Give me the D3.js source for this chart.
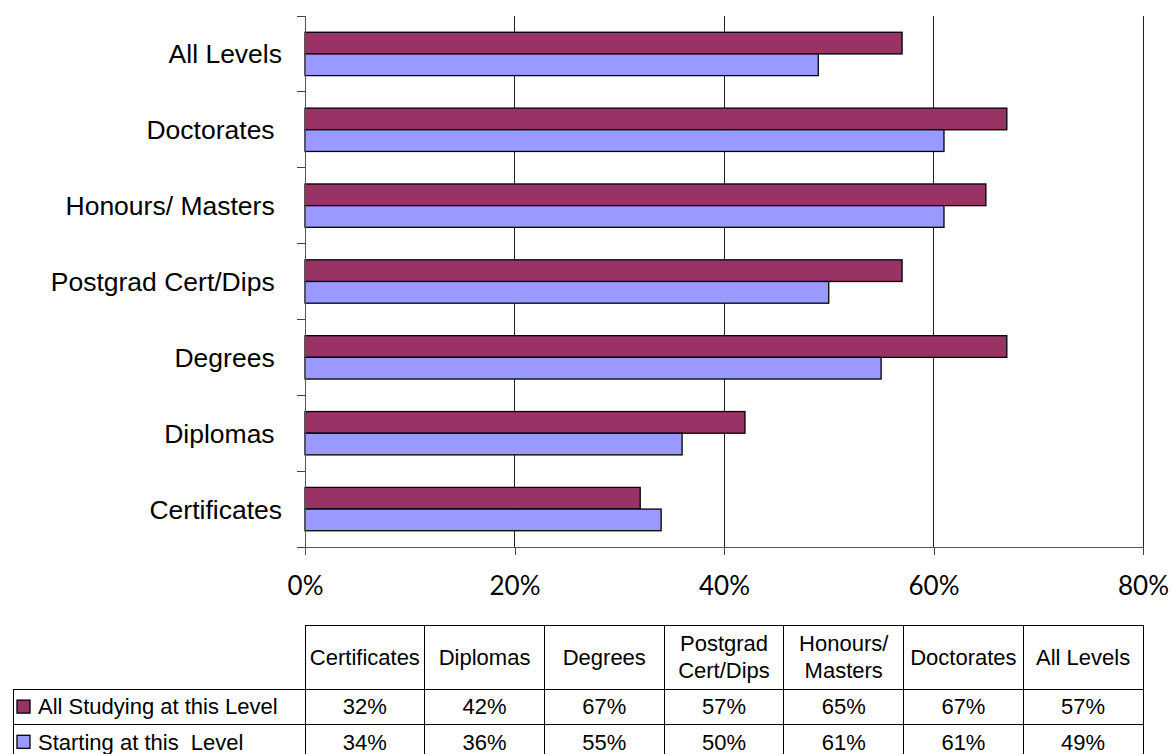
<!DOCTYPE html>
<html>
<head>
<meta charset="utf-8">
<script src="https://cdn.jsdelivr.net/npm/d3@7"></script>
<style>
  html, body { margin: 0; padding: 0; background: #fff; }
  svg { display: block; }
  text { white-space: pre; }
</style>
</head>
<body>
<svg id="chart" width="1173" height="754"></svg>
<script>
// Study levels (table order, left to right; the bar chart lists them bottom to top)
const levels = ["Certificates", "Diplomas", "Degrees", "Postgrad Cert/Dips", "Honours/ Masters", "Doctorates", "All Levels"];
// Axis labels as typed in the source workbook (some carry a trailing space)
const axisLabels = ["Certificates", "Diplomas ", "Degrees ", "Postgrad Cert/Dips ", "Honours/ Masters ", "Doctorates ", "All Levels"];
// Column headings of the data table (wrapped lines)
const headerLines = [["Certificates"], ["Diplomas"], ["Degrees"], ["Postgrad", "Cert/Dips"], ["Honours/", "Masters"], ["Doctorates"], ["All Levels"]];

const seriesNames = ["All Studying at this Level", "Starting at this  Level"];
const allStudying = [32, 42, 67, 57, 65, 67, 57];
const startingLevel = [34, 36, 55, 50, 61, 61, 49];
const xTicks = [0, 20, 40, 60, 80];

const colors = ["#993366", "#9999FF"];
const seriesValues = [allStudying, startingLevel];

const svg = d3.select("#chart");

const plot = { left: 305, right: 1143, top: 16, bottom: 547 };

const x = d3.scaleLinear().domain([0, 80]).range([plot.left, plot.right]);
// top row is "All Levels", so reverse the order for the vertical bands
const y = d3.scaleBand().domain(levels.slice().reverse()).range([plot.top, plot.bottom]).padding(0);
const ySub = d3.scaleBand().domain([0, 1]).range([0, y.bandwidth()]).paddingInner(0).paddingOuter(0.75);

// vertical gridlines
svg.append("g")
  .selectAll("line")
  .data(xTicks.filter(d => d > 0))
  .join("line")
  .attr("x1", d => x(d)).attr("x2", d => x(d))
  .attr("y1", plot.top).attr("y2", plot.bottom)
  .attr("stroke", "#222").attr("stroke-width", 1)
  .attr("shape-rendering", "crispEdges");

// bars
levels.forEach((lvl, i) => {
  seriesValues.forEach((vals, s) => {
    svg.append("rect")
      .attr("x", x(0))
      .attr("y", y(lvl) + ySub(s))
      .attr("width", x(vals[i]) - x(0))
      .attr("height", ySub.bandwidth())
      .attr("fill", colors[s])
      .attr("stroke", "#000")
      .attr("stroke-width", 1.3);
  });
});

// x axis
const xAxis = d3.axisBottom(x).tickValues(xTicks).tickSize(8).tickFormat(d => d + "%");
const gx = svg.append("g").attr("transform", `translate(0,${plot.bottom})`).call(xAxis);
gx.select(".domain").remove();
gx.append("line").attr("x1", plot.left - 8).attr("x2", plot.right)
  .attr("y1", 0).attr("y2", 0).attr("stroke", "#555").attr("shape-rendering", "crispEdges");
gx.selectAll(".tick line").attr("stroke", "#444").attr("shape-rendering", "crispEdges");
gx.selectAll(".tick text")
  .attr("y", 48).attr("dy", null)
  .attr("font-family", "Lato, sans-serif").attr("font-size", 26).attr("fill", "#000");

// y axis: ticks on band boundaries, labels centred in bands
const boundaries = levels.map(l => y(l)).concat([plot.bottom]);
const gy = svg.append("g");
gy.append("line").attr("x1", plot.left).attr("x2", plot.left)
  .attr("y1", plot.top).attr("y2", plot.bottom + 8)
  .attr("stroke", "#555").attr("shape-rendering", "crispEdges");
gy.selectAll("line.tick")
  .data(boundaries)
  .join("line").attr("class", "tick")
  .attr("x1", plot.left - 8).attr("x2", plot.left)
  .attr("y1", d => d).attr("y2", d => d)
  .attr("stroke", "#444").attr("shape-rendering", "crispEdges");
gy.selectAll("text")
  .data(levels)
  .join("text")
  .attr("x", 282 + 0)
  .attr("y", d => y(d) + y.bandwidth() / 2 + 9.5)
  .attr("text-anchor", "end")
  .attr("font-family", "'Liberation Sans', Arial, sans-serif")
  .attr("font-size", 26.5)
  .attr("fill", "#000")
  .text((d, i) => axisLabels[i]);

// data table
const col = d3.scaleBand().domain(levels).range([plot.left, plot.right]);
const table = { top: 625, head: 689, row: 35.2, labelLeft: 13 };
const tFont = "'Liberation Sans', Arial, sans-serif";
const tg = svg.append("g").attr("shape-rendering", "crispEdges");

// header cells
tg.selectAll("rect.head")
  .data(levels)
  .join("rect").attr("class", "head")
  .attr("x", d => col(d)).attr("y", table.top)
  .attr("width", col.bandwidth()).attr("height", table.head - table.top)
  .attr("fill", "none").attr("stroke", "#000");

// body cells
seriesNames.forEach((name, s) => {
  const ry = table.head + s * table.row;
  tg.append("rect")
    .attr("x", table.labelLeft).attr("y", ry)
    .attr("width", plot.left - table.labelLeft).attr("height", table.row)
    .attr("fill", "none").attr("stroke", "#000");
  tg.selectAll(`rect.c${s}`)
    .data(levels)
    .join("rect").attr("class", `c${s}`)
    .attr("x", d => col(d)).attr("y", ry)
    .attr("width", col.bandwidth()).attr("height", table.row)
    .attr("fill", "none").attr("stroke", "#000");
});

// header text
const hg = svg.append("g").attr("font-family", tFont).attr("font-size", 22).attr("fill", "#000").attr("text-anchor", "middle");
levels.forEach((lvl, i) => {
  const lines = headerLines[i];
  const mid = (table.top + table.head) / 2;
  const lh = 27;
  lines.forEach((ln, k) => {
    hg.append("text")
      .attr("x", col(lvl) + col.bandwidth() / 2)
      .attr("y", mid + (k - (lines.length - 1) / 2) * lh + 7.7)
      .text(ln);
  });
});

// legend keys, series names and values
seriesNames.forEach((name, s) => {
  const cy = table.head + s * table.row + table.row / 2;
  svg.append("rect")
    .attr("x", 17).attr("y", cy - 6.5)
    .attr("width", 13).attr("height", 13)
    .attr("fill", colors[s]).attr("stroke", "#000").attr("stroke-width", 1.3);
  svg.append("text")
    .attr("x", 38).attr("y", cy + 7.7)
    .attr("font-family", tFont).attr("font-size", 22).attr("fill", "#000")
    .text(name);
  svg.append("g").selectAll("text")
    .data(levels)
    .join("text")
    .attr("x", d => col(d) + col.bandwidth() / 2)
    .attr("y", cy + 7.7)
    .attr("text-anchor", "middle")
    .attr("font-family", tFont).attr("font-size", 22).attr("fill", "#000")
    .text((d, i) => seriesValues[s][i] + "%");
});
</script>
</body>
</html>
